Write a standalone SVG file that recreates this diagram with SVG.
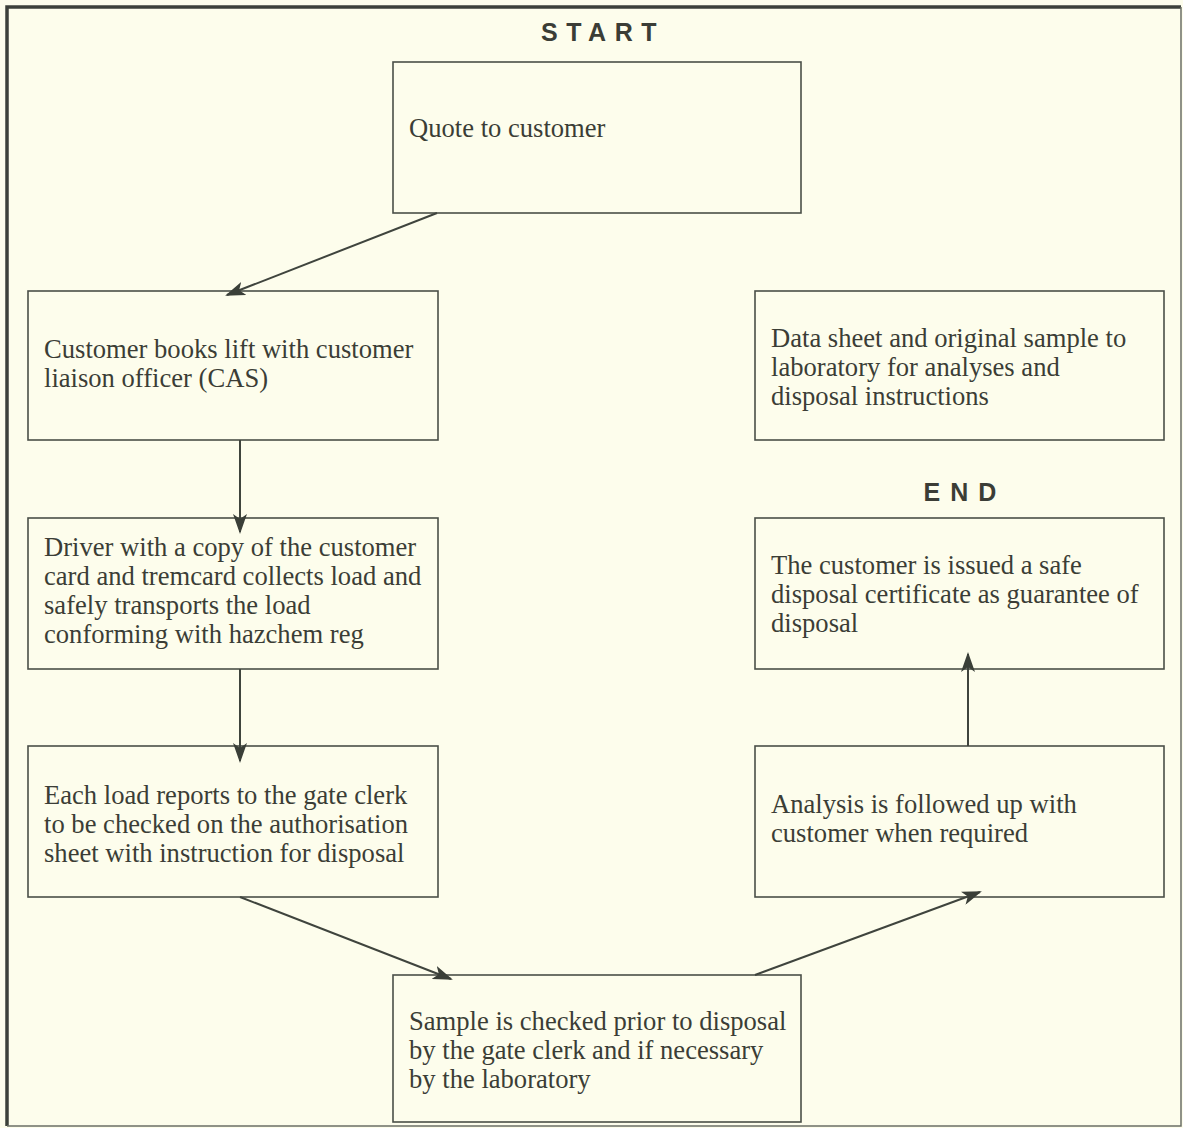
<svg xmlns="http://www.w3.org/2000/svg" width="1183" height="1128" viewBox="0 0 1183 1128">
  <style>
    .box { fill: none; stroke: #4a4f48; stroke-width: 1.6; }
    .label { font-family: "Liberation Serif", "Times New Roman", serif; font-size: 26.6px; fill: #3b3d36; }
    .title { font-family: "Liberation Sans", Arial, sans-serif; font-size: 25px; font-weight: bold; fill: #3b3d36; }
    .conn { stroke: #3f443d; stroke-width: 2; fill: none; marker-end: url(#head); }
  </style>
  <defs>
    <marker id="head" viewBox="0 0 20 14" refX="18" refY="7" markerWidth="20" markerHeight="14" markerUnits="userSpaceOnUse" orient="auto">
      <path d="M0,0 L20,7 L0,14 L5,7 Z" fill="#3a3f38"/>
    </marker>
  </defs>

  <!-- page background and frame -->
  <rect x="0" y="0" width="1183" height="1128" fill="#fdfdec"/>
  <path d="M7,1126 L7,7 L1181,7" fill="none" stroke="#3c403a" stroke-width="3.5"/>
  <path d="M1181,7 L1181,1126 L7,1126" fill="none" stroke="#6b6f66" stroke-width="1.5"/>

  <text class="title" x="603" y="41" text-anchor="middle" letter-spacing="8.5">START</text>
  <text class="title" x="965" y="501" text-anchor="middle" letter-spacing="10">END</text>

  <g id="quote">
    <rect class="box" x="393" y="62" width="408" height="151"/>
    <text class="label" x="409" y="137">Quote to customer</text>
  </g>

  <g id="booking">
    <rect class="box" x="28" y="291" width="410" height="149"/>
    <text class="label" x="44" y="358">Customer books lift with customer</text>
    <text class="label" x="44" y="387">liaison officer (CAS)</text>
  </g>

  <g id="datasheet">
    <rect class="box" x="755" y="291" width="409" height="149"/>
    <text class="label" x="771" y="347">Data sheet and original sample to</text>
    <text class="label" x="771" y="376">laboratory for analyses and</text>
    <text class="label" x="771" y="405">disposal instructions</text>
  </g>

  <g id="driver">
    <rect class="box" x="28" y="518" width="410" height="151"/>
    <text class="label" x="44" y="556">Driver with a copy of the customer</text>
    <text class="label" x="44" y="585">card and tremcard collects load and</text>
    <text class="label" x="44" y="614">safely transports the load</text>
    <text class="label" x="44" y="643">conforming with hazchem reg</text>
  </g>

  <g id="certificate">
    <rect class="box" x="755" y="518" width="409" height="151"/>
    <text class="label" x="771" y="574">The customer is issued a safe</text>
    <text class="label" x="771" y="603">disposal certificate as guarantee of</text>
    <text class="label" x="771" y="632">disposal</text>
  </g>

  <g id="gate">
    <rect class="box" x="28" y="746" width="410" height="151"/>
    <text class="label" x="44" y="804">Each load reports to the gate clerk</text>
    <text class="label" x="44" y="833">to be checked on the authorisation</text>
    <text class="label" x="44" y="862">sheet with instruction for disposal</text>
  </g>

  <g id="analysis">
    <rect class="box" x="755" y="746" width="409" height="151"/>
    <text class="label" x="771" y="813">Analysis is followed up with</text>
    <text class="label" x="771" y="842">customer when required</text>
  </g>

  <g id="sample">
    <rect class="box" x="393" y="975" width="408" height="147"/>
    <text class="label" x="409" y="1030">Sample is checked prior to disposal</text>
    <text class="label" x="409" y="1059">by the gate clerk and if necessary</text>
    <text class="label" x="409" y="1088">by the laboratory</text>
  </g>

  <g id="connectors">
    <line class="conn" x1="437" y1="213" x2="227" y2="295"/>
    <line class="conn" x1="240" y1="440" x2="240" y2="532"/>
    <line class="conn" x1="240" y1="669" x2="240" y2="761"/>
    <line class="conn" x1="240" y1="897" x2="451" y2="979"/>
    <line class="conn" x1="755" y1="975" x2="980" y2="892"/>
    <line class="conn" x1="968" y1="746" x2="968" y2="654"/>
  </g>
</svg>
